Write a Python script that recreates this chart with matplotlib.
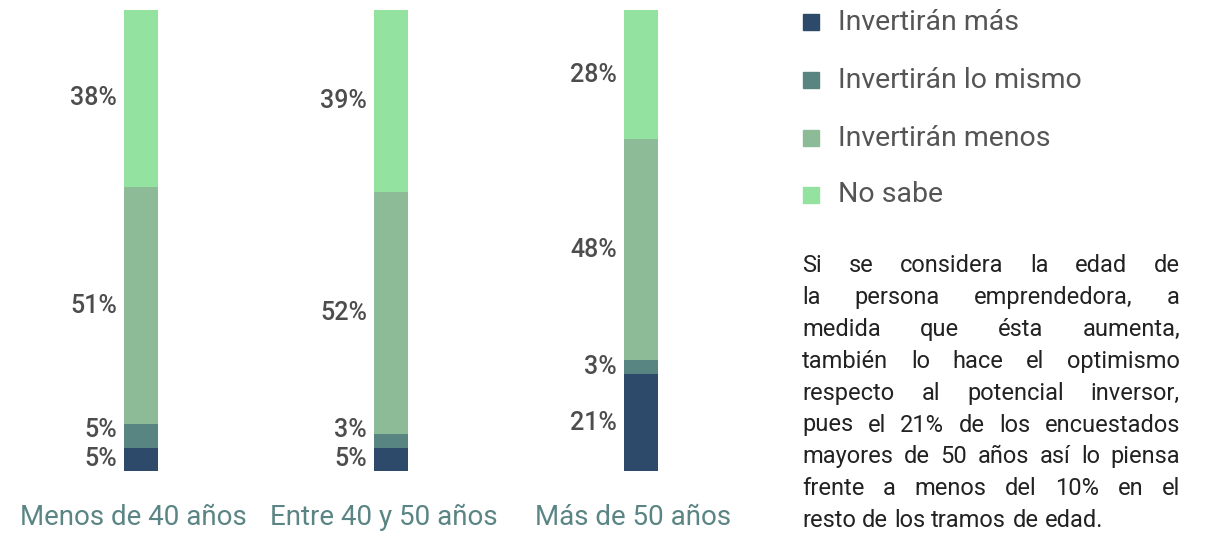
import numpy as np
import matplotlib.pyplot as plt

plt.rcParams['font.family'] = ['Roboto', 'DejaVu Sans']

grupos = ['Menos de 40 años', 'Entre 40 y 50 años', 'Más de 50 años']
series = ['Invertirán más', 'Invertirán lo mismo', 'Invertirán menos', 'No sabe']
mas = [5, 5, 21]
igual = [5, 3, 3]
menos = [51, 52, 48]
no_sabe = [38, 39, 28]

colores = ['#2d4a6b', '#588482', '#8ebb97', '#94e2a0']

texto = [
    'Si se considera la edad de',
    'la persona emprendedora, a',
    'medida que ésta aumenta,',
    'también lo hace el optimismo',
    'respecto al potencial inversor,',
    'pues el 21% de los encuestados',
    'mayores de 50 años así lo piensa',
    'frente a menos del 10% en el',
    'resto de los tramos de edad.',
]

W, H = 1222, 535
fig = plt.figure(figsize=(W / 100, H / 100), dpi=100)

# bar area, placed in pixels
ax = fig.add_axes([0, 64 / H, 770 / W, 461 / H])
ax.set_xlim(-141 / 250, (770 - 141) / 250)
ax.set_ylim(0, 1)
ax.axis('off')

x = np.arange(len(grupos))
ancho = 0.136
datos = np.array([mas, igual, menos, no_sabe], dtype=float)
# each bar stacked as share of its own total
cuota = datos / datos.sum(axis=0)
base = np.zeros(len(grupos))
centros = []
for vals, col in zip(cuota, colores):
    ax.bar(x, vals, ancho, bottom=base, color=col, linewidth=0)
    centros.append(base + vals / 2)
    base += vals
centros = np.array(centros)

# keep small-segment labels from overlapping
sep = 0.064
for j in range(len(grupos)):
    for i in range(1, len(series)):
        if centros[i, j] - centros[i - 1, j] < sep:
            centros[i, j] = centros[i - 1, j] + sep

for i in range(len(series)):
    for j in range(len(grupos)):
        ax.text(x[j] - ancho / 2 - 0.028, centros[i, j], f'{int(datos[i, j])}%',
                ha='right', va='center', fontsize=18, fontweight='medium',
                color='#4d4d4d')

for j, g in enumerate(grupos):
    ax.text(x[j] - 0.03, -0.1, g, ha='center', va='center', fontsize=20,
            color='#5a8584', clip_on=False)

# legend
ys = [22, 80, 138, 195]
for s, col, yp in zip(series, colores, ys):
    fig.patches.append(plt.Rectangle((803 / W, 1 - (yp + 8) / H), 16 / W, 16 / H,
                                     transform=fig.transFigure, color=col))
    fig.text(838 / W, 1 - yp / H, s, ha='left', va='center', fontsize=20.5,
             color='#555555')

# justified paragraph
izq, der = 802, 1180
fig.canvas.draw()
rend = fig.canvas.get_renderer()
y0, paso = 266, 31.8
for k, linea in enumerate(texto):
    yp = 1 - (y0 + k * paso) / H
    palabras = linea.split(' ')
    objs = [fig.text(0, yp, p, ha='left', va='center', fontsize=17,
                     color='#222222') for p in palabras]
    anchos = [o.get_window_extent(rend).width for o in objs]
    if k == len(texto) - 1:
        hueco = rend.points_to_pixels(17) * 0.26
    else:
        hueco = (der - izq - sum(anchos)) / (len(palabras) - 1)
    xp = izq
    for o, a in zip(objs, anchos):
        o.set_x(xp / W)
        xp += a + hueco

fig.savefig('out.png', dpi=100)
